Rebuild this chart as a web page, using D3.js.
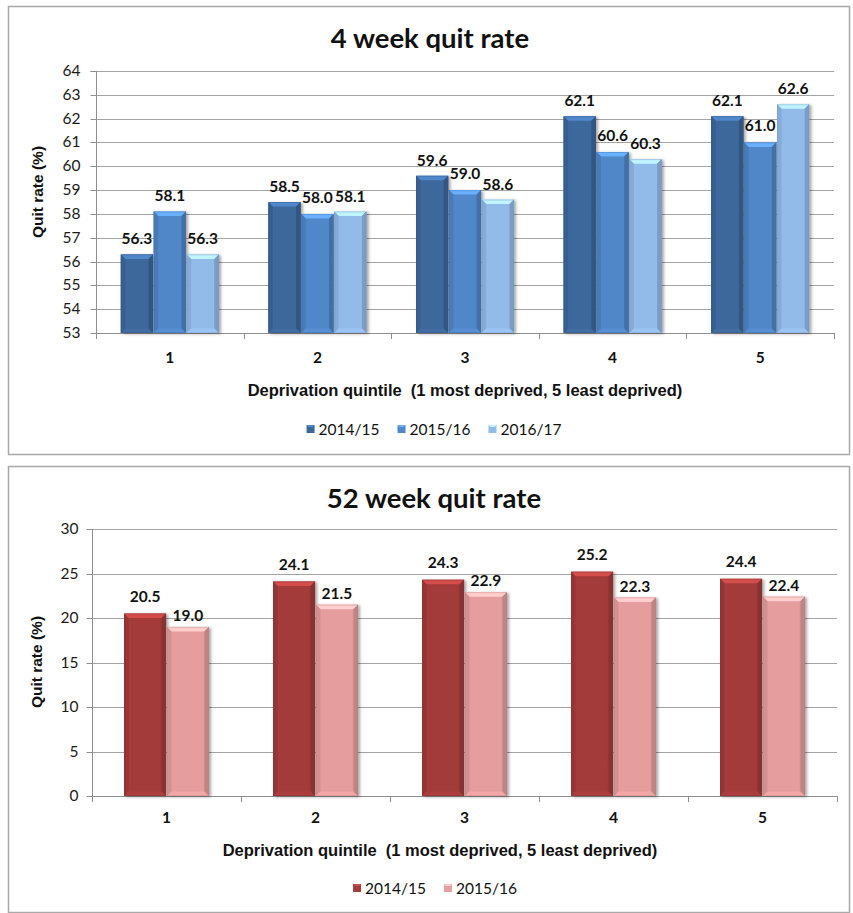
<!DOCTYPE html>
<html><head><meta charset="utf-8">
<script src="https://cdn.jsdelivr.net/npm/d3@7"></script>
<style>
html,body{margin:0;padding:0;background:#fff;}
svg{display:block;}
</style></head><body>
<svg id="chart" width="853" height="913"></svg>
<script>
// Stop-smoking quit rates by deprivation quintile
const quintiles = ["1", "2", "3", "4", "5"];

const fourWeekYears = ["2014/15", "2015/16", "2016/17"];
const fourWeek201415 = [56.3, 58.5, 59.6, 62.1, 62.1];
const fourWeek201516 = [58.1, 58.0, 59.0, 60.6, 61.0];
const fourWeek201617 = [56.3, 58.1, 58.6, 60.3, 62.6];
const fourWeekTicks = [53, 54, 55, 56, 57, 58, 59, 60, 61, 62, 63, 64];

const fiftyTwoWeekYears = ["2014/15", "2015/16"];
const fiftyTwoWeek201415 = [20.5, 24.1, 24.3, 25.2, 24.4];
const fiftyTwoWeek201516 = [19.0, 21.5, 22.9, 22.3, 22.4];
const fiftyTwoWeekTicks = [0, 5, 10, 15, 20, 25, 30];

const xAxisTitle = "Deprivation quintile  (1 most deprived, 5 least deprived)";
const yAxisTitle = "Quit rate (%)";

const svg = d3.select("#chart");
const defs = svg.append("defs");

const shadow = defs.append("filter").attr("id", "barShadow")
  .attr("x", "-20%").attr("y", "-10%").attr("width", "150%").attr("height", "130%");
shadow.append("feGaussianBlur").attr("in", "SourceAlpha").attr("stdDeviation", 1.6).attr("result", "b");
shadow.append("feOffset").attr("in", "b").attr("dx", 2).attr("dy", 1).attr("result", "o");
shadow.append("feComponentTransfer").attr("in", "o").attr("result", "s")
  .append("feFuncA").attr("type", "linear").attr("slope", 0.35);
const merge = shadow.append("feMerge");
merge.append("feMergeNode").attr("in", "s");
merge.append("feMergeNode").attr("in", "SourceGraphic");

let gradId = 0;
function faceGradient(color) {
  const id = "face" + (gradId++);
  const c = d3.color(color);
  const g = defs.append("linearGradient").attr("id", id)
    .attr("x1", 0).attr("x2", 1).attr("y1", 0).attr("y2", 0);
  g.append("stop").attr("offset", "0%").attr("stop-color", c.darker(0.35));
  g.append("stop").attr("offset", "10%").attr("stop-color", c);
  g.append("stop").attr("offset", "85%").attr("stop-color", c);
  g.append("stop").attr("offset", "100%").attr("stop-color", c.darker(0.55));
  return id;
}

// Bevelled bar: face, lit top edge, shaded sides and base
function bevelBar(g, x, y, w, h, color, faceId) {
  const c = d3.color(color);
  const b = Math.min(4.5, h / 2);
  const bar = g.append("g").attr("filter", "url(#barShadow)");
  bar.append("rect").attr("x", x).attr("y", y).attr("width", w).attr("height", h)
    .attr("fill", `url(#${faceId})`);
  bar.append("polygon")
    .attr("points", [[x, y], [x + w, y], [x + w - b, y + b], [x + b, y + b]].join(" "))
    .attr("fill", c.brighter(0.75));
  bar.append("polygon")
    .attr("points", [[x, y], [x + b, y + b], [x + b, y + h - b], [x, y + h]].join(" "))
    .attr("fill", c.darker(0.25));
  bar.append("polygon")
    .attr("points", [[x + w, y], [x + w - b, y + b], [x + w - b, y + h - b], [x + w, y + h]].join(" "))
    .attr("fill", c.darker(0.5));
  bar.append("polygon")
    .attr("points", [[x, y + h], [x + b, y + h - b], [x + w - b, y + h - b], [x + w, y + h]].join(" "))
    .attr("fill", c.brighter(0.15));
  bar.append("rect").attr("x", x + 0.5).attr("y", y + 0.5).attr("width", w - 1).attr("height", h - 1)
    .attr("fill", "none").attr("stroke", c.darker(0.6)).attr("stroke-opacity", 0.35);
}

const calibriLike = "Lato, 'Noto Sans', sans-serif";
const arialLike = "'Liberation Sans', Arial, sans-serif";

function drawPanel(cfg) {
  const g = svg.append("g");
  g.append("rect")
    .attr("x", cfg.box[0] + 0.5).attr("y", cfg.box[1] + 0.5)
    .attr("width", cfg.box[2]).attr("height", cfg.box[3])
    .attr("fill", "#fff").attr("stroke", "#a9a9a9").attr("stroke-width", 1.5);

  g.append("text").attr("x", cfg.titleX).attr("y", cfg.titleY)
    .attr("text-anchor", "middle").attr("font-family", calibriLike)
    .attr("font-weight", "bold").attr("font-size", 27.5).attr("fill", "#111")
    .text(cfg.title);

  const p = cfg.plot;
  const y = d3.scaleLinear().domain(cfg.yDomain).range([p.bottom, p.top]);
  const x = d3.scaleBand().domain(quintiles).range([p.left, p.right])
    .paddingInner(cfg.groupPad).paddingOuter(cfg.groupPad / 2);
  const xs = d3.scaleBand().domain(cfg.years).range([0, x.bandwidth()]).paddingInner(0.02);

  // horizontal gridlines
  g.append("g").selectAll("line").data(cfg.ticks).join("line")
    .attr("x1", p.left).attr("x2", p.right)
    .attr("y1", d => Math.round(y(d)) + 0.5).attr("y2", d => Math.round(y(d)) + 0.5)
    .attr("stroke", "#a3a3a3").attr("stroke-width", 1);

  // y axis
  const yAxis = g.append("g").attr("transform", `translate(${p.left + 0.5},0.5)`)
    .call(d3.axisLeft(y).tickValues(cfg.ticks).tickSize(6).tickPadding(cfg.tickPad).tickFormat(d3.format("d")));
  yAxis.select(".domain").attr("stroke", "#8f8f8f").attr("d", `M-6,${Math.round(p.top)}H0V${Math.round(p.bottom)}`);
  yAxis.selectAll(".tick line").attr("stroke", "#8f8f8f");
  yAxis.selectAll(".tick").attr("transform", d => `translate(0,${Math.round(y(d))})`);
  yAxis.selectAll("text").attr("font-family", calibriLike).attr("font-size", 15.5).attr("fill", "#1a1a1a");

  // x axis line with boundary ticks
  const xAxisG = g.append("g");
  xAxisG.append("line").attr("x1", p.left).attr("x2", p.right)
    .attr("y1", Math.round(p.bottom) + 0.5).attr("y2", Math.round(p.bottom) + 0.5)
    .attr("stroke", "#8f8f8f");
  const bounds = quintiles.map(q => x(q) - x.step() * x.paddingInner() / 2).concat([p.right]);
  xAxisG.selectAll("line.bt").data(bounds).join("line").attr("class", "bt")
    .attr("x1", d => Math.round(d) + 0.5).attr("x2", d => Math.round(d) + 0.5)
    .attr("y1", Math.round(p.bottom)).attr("y2", Math.round(p.bottom) + 6)
    .attr("stroke", "#8f8f8f");
  xAxisG.selectAll("text.cat").data(quintiles).join("text").attr("class", "cat")
    .attr("x", d => x(d) + x.bandwidth() / 2).attr("y", cfg.catY)
    .attr("text-anchor", "middle").attr("font-family", calibriLike)
    .attr("font-weight", "bold").attr("font-size", 15.5).attr("fill", "#111")
    .text(d => d);

  // bars and value labels
  const barsG = g.append("g");
  cfg.years.forEach((yr, si) => {
    const faceId = faceGradient(cfg.colors[si]);
    cfg.values[si].forEach((v, i) => {
      const bx = x(quintiles[i]) + xs(yr);
      const by = y(v);
      bevelBar(barsG, bx, by, xs.bandwidth(), p.bottom - by, cfg.colors[si], faceId);
    });
  });
  const labG = g.append("g");
  cfg.years.forEach((yr, si) => {
    cfg.values[si].forEach((v, i) => {
      labG.append("text")
        .attr("x", x(quintiles[i]) + xs(yr) + xs.bandwidth() / 2)
        .attr("y", y(v) - cfg.labelGap[si])
        .attr("text-anchor", "middle").attr("font-family", calibriLike)
        .attr("font-weight", "bold").attr("font-size", 15.5).attr("fill", "#111")
        .text(d3.format(".1f")(v));
    });
  });

  // axis titles
  g.append("text")
    .attr("transform", `translate(${cfg.yTitle[0]},${cfg.yTitle[1]}) rotate(-90)`)
    .attr("text-anchor", "middle").attr("font-family", arialLike)
    .attr("font-weight", "bold").attr("font-size", 15.5).attr("fill", "#111")
    .text(yAxisTitle);
  g.append("text").attr("x", cfg.xTitle[0]).attr("y", cfg.xTitle[1])
    .attr("text-anchor", "middle").attr("font-family", arialLike)
    .attr("font-weight", "bold").attr("font-size", 16.5).attr("fill", "#111")
    .attr("xml:space", "preserve").style("white-space", "pre")
    .text(xAxisTitle);

  // legend
  const leg = g.append("g");
  let cx = 0;
  const legendGap = 18;
  cfg.years.forEach((yr, si) => {
    const it = leg.append("g");
    const lc = d3.color(cfg.colors[si]);
    it.append("rect").attr("x", 0).attr("y", -4).attr("width", 8).attr("height", 8)
      .attr("fill", lc);
    it.append("polygon").attr("points", "0,-4 8,-4 6,-2 2,-2").attr("fill", lc.brighter(0.8));
    const t = it.append("text").attr("x", 12).attr("y", 6)
      .attr("font-family", calibriLike).attr("font-size", 15.5).attr("fill", "#111")
      .text(yr);
    const w = 12 + t.node().getComputedTextLength();
    it.attr("transform", `translate(${cx},0)`);
    cx += w + legendGap;
  });
  const total = cx - legendGap;
  leg.attr("transform", `translate(${cfg.legend[0] - total / 2},${cfg.legend[1]})`);
}

drawPanel({
  box: [8, 6, 841, 448],
  title: "4 week quit rate", titleX: 430, titleY: 48,
  plot: { left: 96, right: 834, top: 71, bottom: 333 },
  yDomain: [53, 64], ticks: fourWeekTicks, tickPad: 10,
  years: fourWeekYears,
  values: [fourWeek201415, fourWeek201516, fourWeek201617],
  colors: ["#3d679b", "#5087c8", "#93bbea"],
  groupPad: 0.336,
  labelGap: [10, 11, 10],
  catY: 363,
  yTitle: [43, 192],
  xTitle: [465, 396],
  legend: [434, 429]
});

drawPanel({
  box: [8, 466, 841, 446],
  title: "52 week quit rate", titleX: 434, titleY: 508,
  plot: { left: 92, right: 837, top: 529, bottom: 796 },
  yDomain: [0, 30], ticks: fiftyTwoWeekTicks, tickPad: 8,
  years: fiftyTwoWeekYears,
  values: [fiftyTwoWeek201415, fiftyTwoWeek201516],
  colors: ["#a33b3a", "#e59e9d"],
  groupPad: 0.43,
  labelGap: [12, 6],
  catY: 823,
  yTitle: [42, 662],
  xTitle: [440, 856],
  legend: [435, 888]
});
</script>
</body></html>
